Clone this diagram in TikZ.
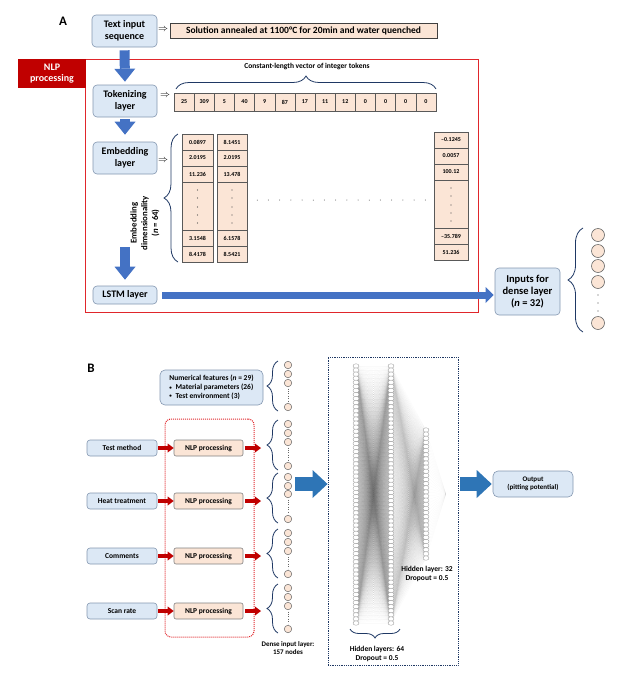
\documentclass[tikz,border=0pt]{standalone}
\usepackage{fontspec}
\setmainfont{Carlito}
\usetikzlibrary{arrows.meta,decorations.pathreplacing,shapes.geometric}
\definecolor{boxblue}{HTML}{DCE8F5}
\definecolor{boxedge}{HTML}{8497B0}
\definecolor{peach}{HTML}{FBE5D6}
\definecolor{arrowblue}{HTML}{4472C4}
\definecolor{arrowblueB}{HTML}{2E75B6}
\definecolor{darkred}{HTML}{C00000}
\definecolor{framered}{HTML}{E0262B}
\definecolor{navy}{HTML}{1F3864}
\newcommand{\smallbul}{\raisebox{0.6pt}{\fontsize{5}{5}\selectfont\textbullet}}
\begin{document}
\begin{tikzpicture}[x=1pt,y=-1pt,
  fA/.style={font=\fontsize{10}{11.5}\selectfont\bfseries},
  fB/.style={font=\fontsize{7.5}{8.8}\selectfont\bfseries},
  fS/.style={font=\fontsize{7}{8.5}\selectfont\bfseries},
  bluebox/.style={draw=boxedge, fill=boxblue, rounded corners=4pt, align=center, inner sep=1pt, line width=0.6pt},
  peachbox/.style={draw=black!75, fill=peach, inner sep=0pt, line width=0.6pt},
  cell/.style={draw=black!65, fill=peach, inner sep=0pt, line width=0.5pt, font=\fontsize{6}{7}\selectfont\bfseries},
  blockA/.style={draw=arrowblue, line width=10pt, -{Triangle[length=13pt,width=21pt,line width=0pt]}},
  blockL/.style={draw=arrowblue, line width=7pt, -{Triangle[length=8pt,width=16pt,line width=0pt]}},
  blockB/.style={draw=arrowblueB, line width=14pt, -{Triangle[length=15pt,width=28pt,line width=0pt]}},
  redarrow/.style={draw=darkred, line width=3.5pt, -{Triangle[length=6pt,width=9pt,line width=0pt]}},
  navybrace/.style={draw=navy, line width=0.8pt, decorate, decoration={brace, amplitude=#1}},
  acirc/.style={circle, draw=black!60, fill=peach, minimum size=13pt, inner sep=0pt, line width=0.6pt},
  bcirc/.style={circle, draw=black!60, fill=peach, minimum size=7.5pt, inner sep=0pt, line width=0.5pt},
  ncirc/.style={ellipse, draw=black!40, fill=white, minimum width=6pt, minimum height=4.5pt, inner sep=0pt, line width=0.35pt},
  conn/.style={draw=black, line width=0.25pt, opacity=0.02},
  conn2/.style={draw=black, line width=0.2pt, opacity=0.025},
  srcbox/.style={draw=boxedge, fill=boxblue, rounded corners=3pt, inner sep=0pt, minimum width=70pt, minimum height=16pt, line width=0.6pt, fB},
  nlpbox/.style={draw=black!50, fill=peach, rounded corners=2pt, inner sep=0pt, minimum width=69pt, minimum height=16pt, line width=0.6pt, fB},
]
\useasboundingbox (0,0) rectangle (635,675);

% ================= Part A =================
\node[font=\fontsize{13}{14}\selectfont\bfseries] (labA) at (63,21) {A};

\node[bluebox, fA, minimum width=65pt, minimum height=32pt] (txt) at (124.5,31) {Text input\\sequence};
\node (arr1) at (163,30) {$\Rightarrow$};
\node[peachbox, font=\fontsize{9.5}{11}\selectfont\bfseries, minimum width=267pt, minimum height=15pt] (sol) at (303.5,30.5) {Solution annealed at 1100°C for 20min and water quenched};

\node[draw=framered, line width=1pt, minimum width=393pt, minimum height=253pt, inner sep=0pt] (frame) at (281.5,185.5) {};
\node[fill=darkred, text=white, fA, align=center, minimum width=68pt, minimum height=29pt, inner sep=0pt] (nlplab) at (52,73.5) {NLP\\processing};

\node[bluebox, fA, minimum width=64pt, minimum height=32pt] (tok) at (125,101) {Tokenizing\\layer};
\node (arr2) at (165,96) {$\Rightarrow$};
\node[font=\fontsize{7.5}{9}\selectfont\bfseries] (constlab) at (307,67) {Constant-length vector of integer tokens};
\draw[navybrace=13pt] (176,89) -- (436,89);
\foreach \v [count=\k from 0] in {25,309,5,40,9,87,17,11,12,0,0,0,0}
  \node[cell, minimum width=20.15pt, minimum height=18pt] (tk\k) at ({184.08+\k*20.15},102) {\v};

\node[bluebox, fA, minimum width=64pt, minimum height=32pt] (emb) at (125,158) {Embedding\\layer};
\node (arr3) at (163,161) {$\Rightarrow$};
\draw[navybrace=14pt] (178,262) -- (178,134);
\node[rotate=90, align=center, font=\fontsize{8.8}{10.8}\selectfont\bfseries] (dimlab) at (145,223) {Embedding\\dimensionality\\(\textit{n} = 64)};

\foreach \cx/\w/\n/\va/\vb/\vc/\vd/\ve/\dy in {
    197.5/31/p/0.0897/2.0195/11.236/3.1548/8.4178/0,
    232/30/q/8.1451/2.0195/13.478/6.1578/8.5421/0,
    451/34/r/–0.1245/0.0057/100.12/–35.789/51.236/-2} {
  \node[cell, minimum width=\w, minimum height=16] (\n1) at (\cx,{142+\dy}) {\va};
  \node[cell, minimum width=\w, minimum height=16] (\n2) at (\cx,{158+\dy}) {\vb};
  \node[cell, minimum width=\w, minimum height=16] (\n3) at (\cx,{174+\dy}) {\vc};
  \node[cell, minimum width=\w, minimum height=48] (\n4) at (\cx,{206+\dy}) {};
  \node[cell, minimum width=\w, minimum height=16] (\n5) at (\cx,{238+\dy}) {\vd};
  \node[cell, minimum width=\w, minimum height=16] (\n6) at (\cx,{254+\dy}) {\ve};
  \foreach \d in {190,198,207,215,223}
    \fill[black!70] (\cx,{\d+\dy}) circle (0.55);
}
\draw[black!70, line width=1pt, line cap=round, dash pattern=on 0pt off 11.2pt] (q4.east) ++(10,-6) -- ([xshift=-8pt,yshift=4pt]r4.west);

\coordinate (embarrow) at (125,247);
\node[bluebox, fA, minimum width=64pt, minimum height=18pt] (lstm) at (125,295) {LSTM layer};
\draw[blockA, shorten <=3pt, shorten >=3pt] (txt.south) -- (tok.north);
\draw[blockA, shorten <=2pt, shorten >=7pt] (tok.south) -- (emb.north);
\draw[blockA, shorten >=6pt] (embarrow) -- (lstm.north);

\node[bluebox, font=\fontsize{10.5}{12}\selectfont\bfseries, minimum width=65pt, minimum height=47pt] (inp) at (527.5,291.5) {Inputs for\\dense layer\\(\textit{n} = 32)};
\draw[blockL, shorten <=5pt, shorten >=1pt] (lstm.east) -- (lstm.east -| inp.west);

\draw[navybrace=15pt] (583,332) -- (583,228);
\foreach \y [count=\k] in {235,251,266,282,323}
  \node[acirc] (ia\k) at (598,\y) {};
\foreach \y in {295,303,311}
  \fill[black!70] (598,\y) circle (0.6);

% ================= Part B =================
\node[font=\fontsize{13}{14}\selectfont\bfseries] (labB) at (91,368) {B};

\node[bluebox, fB, align=left, rounded corners=5pt, minimum width=103pt, minimum height=35pt] (numf) at (211.5,387.5)
  {Numerical features (\textit{n} = 29)\\\smallbul\enspace Material parameters (26)\\\smallbul\enspace Test environment (3)};

\node[draw=framered, densely dotted, line width=1pt, rounded corners=6pt, minimum width=89pt, minimum height=218pt, inner sep=0pt] (nlpgroup) at (209.5,528) {};

\foreach \k/\t/\y in {1/Test method/448, 2/Heat treatment/501, 3/Comments/556, 4/Scan rate/611} {
  \node[srcbox] (src\k) at (122,\y) {\t};
  \node[nlpbox] (nlp\k) at (208.5,\y) {NLP processing};
  \coordinate (rend\k) at (261,\y);
  \draw[redarrow, shorten <=1pt] (src\k.east) -- (nlp\k.west);
  \draw[redarrow, shorten <=1.5pt] (nlp\k.east) -- (rend\k);
}

\foreach \g/\ya/\yb/\yc/\yd in {1/365/374/383/407, 2/424/433/442/466, 3/477/486/494/519, 4/533/542/551/574, 5/588/597/606/629} {
  \node[bcirc] (g\g-a) at (288,\ya) {};
  \node[bcirc] (g\g-b) at (288,\yb) {};
  \node[bcirc] (g\g-c) at (288,\yc) {};
  \node[bcirc] (g\g-d) at (288,\yd) {};
  \draw[black!60, line width=0.6pt, dash pattern=on 0.6pt off 1.8pt] ([yshift=-1.5pt]g\g-c.south) -- ([yshift=1.5pt]g\g-d.north);
  \draw[navybrace=11pt] (278,{\yd+4}) -- (278,{\ya-4});
}
\node[fS, align=center] (densel) at (288,648) {Dense input layer:\\157 nodes};

\node[draw=navy, line width=0.9pt, dash pattern=on 0.9pt off 0.9pt, minimum width=130pt, minimum height=308pt, inner sep=0pt] (net) at (393,511) {};
\coordinate (bigstart) at (295,484);
\draw[blockB] (bigstart) -- (bigstart -| net.west);

\foreach \i in {1,...,64} {
  \coordinate (a\i) at (356,{366+(\i-1)*4.08});
  \coordinate (b\i) at (391,{366+(\i-1)*4.08});
}
\foreach \i in {1,...,32}
  \coordinate (c\i) at (426,{430+(\i-1)*4.13});
\coordinate (sink) at (446,494);
\foreach \i in {1,...,64}
  \foreach \j in {1,...,64}
    \draw[conn] (a\i) -- (b\j);
\foreach \i in {1,...,64}
  \foreach \j in {1,...,32}
    \draw[conn] (b\i) -- (c\j);
\foreach \j in {1,...,32}
  \draw[conn2] (c\j) -- (sink);
\foreach \i in {1,...,64} {
  \node[ncirc] (na\i) at (a\i) {};
  \node[ncirc] (nb\i) at (b\i) {};
}
\foreach \i in {1,...,32}
  \node[ncirc] (nc\i) at (c\i) {};

\draw[navybrace=9pt] (400,629) -- (350,629);
\node[fB, align=center] (hid64) at (377,654) {Hidden layers: 64\\Dropout = 0.5};
\node[fB, align=center] (hid32) at (427,574) {Hidden layer: 32\\Dropout = 0.5};

\node[bluebox, fS, rounded corners=5pt, minimum width=80pt, minimum height=26pt] (out) at (533,484) {Output\\(pitting potential)};
\draw[blockB, shorten <=2pt, shorten >=1pt] (out.west -| net.east) -- (out.west);
\end{tikzpicture}
\end{document}
